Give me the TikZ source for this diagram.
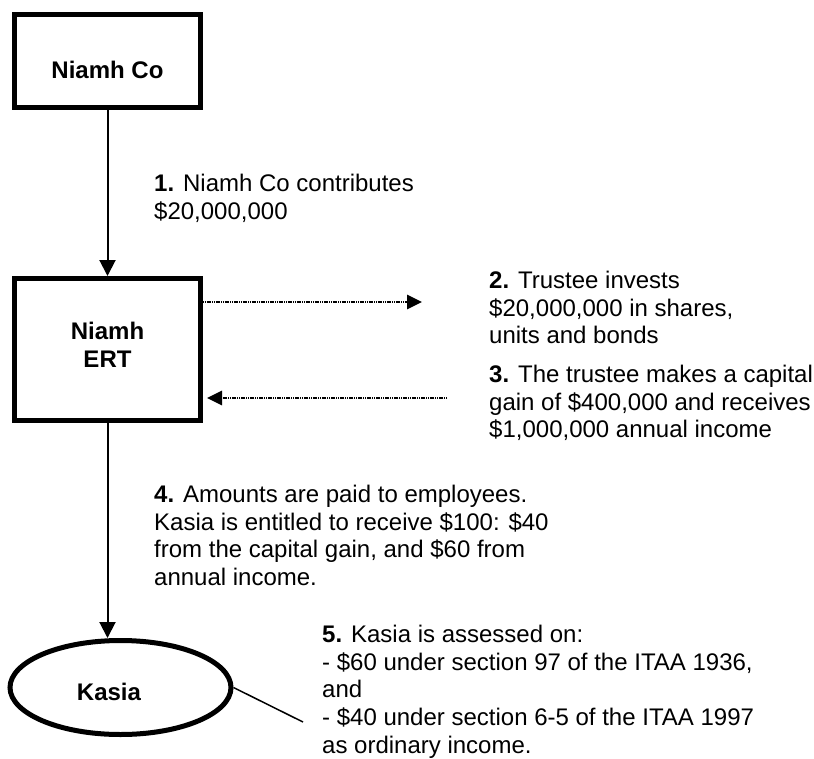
\documentclass[tikz,border=0pt]{standalone}
\usepackage{fontspec}
\setmainfont{Liberation Sans}
\usetikzlibrary{arrows.meta,shapes.geometric}
\begin{document}
\begin{tikzpicture}[x=1pt,y=-1pt,
  txt/.style={font=\fontsize{24}{27.6}\selectfont, align=left, anchor=north west, inner sep=0pt},
  boxnode/.style={draw, line width=5pt, minimum width=186pt, inner sep=0pt,
    font=\fontsize{24}{28.5}\selectfont\bfseries, align=center},
  ellnode/.style={draw, ellipse, line width=5pt, minimum width=221pt, minimum height=94pt,
    inner sep=0pt, font=\fontsize{24}{27.6}\selectfont\bfseries},
  flow/.style={line width=2pt, -{Triangle[length=16pt,width=16pt]}},
  dotflow/.style={line width=2.8pt, dash pattern=on 1.2pt off 0.6pt, -{Triangle[length=15pt,width=14pt]}},
  thinline/.style={line width=1.5pt}]
\useasboundingbox (0,0) rectangle (814,758);

\node[boxnode, minimum height=93pt, text height=34.6pt, text depth=0pt] (co) at (107.5,61) {Niamh Co};
\node[boxnode, minimum height=142pt] (ert) at (107.5,349.5) {Niamh\\ERT\rule[-9pt]{0pt}{9pt}};
\node[ellnode, text height=25pt, text depth=0pt] (kasia) at (120.5,687.5) {Kasia\hspace*{23pt}};

\coordinate (a2end) at (422,302);
\coordinate (a3start) at (447,398);
\coordinate (lend) at (303,722);

\draw[flow] (co.south) -- (ert.north);
\draw[dotflow] (ert.east |- a2end) -- (a2end);
\draw[dotflow, shorten >=4pt] (a3start) -- (ert.east |- a3start);
\draw[flow] (ert.south) -- (ert.south |- kasia.north);
\draw[thinline] (kasia.east) -- (lend);

\node[txt] (t1) at (154,174) {\textbf{1.} Niamh Co contributes\\\$20,000,000};
\node[txt] (t2) at (489,271) {\textbf{2.} Trustee invests\\\$20,000,000 in shares,\\units and bonds};
\node[txt] (t3) at (489,365) {\textbf{3.} The trustee makes a capital\\gain of \$400,000 and receives\\\$1,000,000 annual income};
\node[txt] (t4) at (154,485) {\textbf{4.} Amounts are paid to employees.\\Kasia is entitled to receive \$100: \$40\\from the capital gain, and \$60 from\\annual income.};
\node[txt] (t5) at (322,625) {\textbf{5.} Kasia is assessed on:\\- \$60 under section 97 of the ITAA 1936,\\and\\- \$40 under section 6-5 of the ITAA 1997\\as ordinary income.};
\end{tikzpicture}
\end{document}
